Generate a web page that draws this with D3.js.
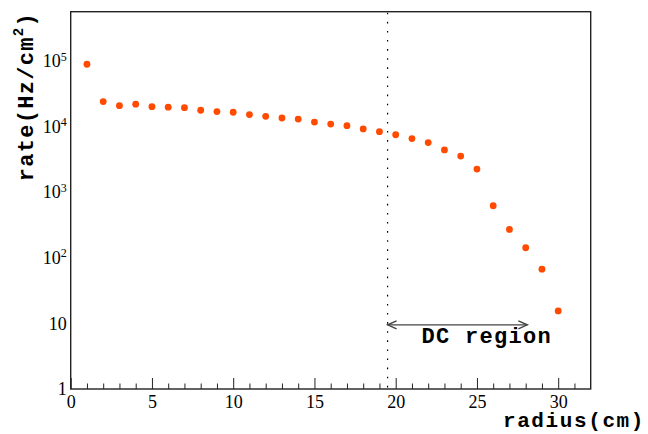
<!DOCTYPE html>
<html>
<head>
<meta charset="utf-8">
<script src="https://cdn.jsdelivr.net/npm/d3@7"></script>
<style>
  html, body { margin: 0; padding: 0; background: #fff; }
  svg { display: block; }
  .serif text, text.serif { font-family: "Liberation Serif", "DejaVu Serif", "Times New Roman", serif; }
  .mono { font-family: "Liberation Mono", "DejaVu Sans Mono", "Courier New", monospace; font-weight: bold; }
</style>
</head>
<body>
<svg id="chart" width="648" height="434"></svg>
<script>
// Hit rate versus radius
const radius = [1, 2, 3, 4, 5, 6, 7, 8, 9, 10, 11, 12, 13, 14, 15,
                16, 17, 18, 19, 20, 21, 22, 23, 24, 25, 26, 27, 28, 29, 30];
const rate = [89000, 24000, 20800, 21900, 20100, 19700, 19400, 17700, 16900, 16500,
              15200, 14300, 13500, 13000, 11700, 10900, 10300, 9200, 8350, 7500,
              6550, 5700, 4400, 3550, 2250, 620, 270, 142, 67, 15.5];

const xMajorTicks = [0, 5, 10, 15, 20, 25, 30];
const xMinorTicks = [1, 2, 3, 4, 6, 7, 8, 9, 11, 12, 13, 14, 16, 17, 18, 19,
                     21, 22, 23, 24, 26, 27, 28, 29, 31];
const yTickValues = [1, 10, 100, 1000, 10000, 100000];
const yTickExps = ["", "", "2", "3", "4", "5"];

const dcStart = 19.5;
const dcEnd = 28.1;
const dcLabel = "DC region";

const svg = d3.select("#chart");
const plot = { left: 70.7, right: 590.7, top: 11.7, bottom: 389 };

const x = d3.scaleLinear().domain([0, 32]).range([plot.left, plot.right]);
const y = d3.scaleLog().domain([1, Math.pow(10, 5.75)]).range([plot.bottom, plot.top]);

// x axis: minor ticks then major ticks with labels, drawn inward
const xMinor = d3.axisBottom(x).tickValues(xMinorTicks).tickSize(-5.5).tickFormat("");
const xMajor = d3.axisBottom(x).tickValues(xMajorTicks).tickSize(-11).tickPadding(6.5);

svg.append("g").attr("transform", `translate(0,${plot.bottom})`).call(xMinor)
  .call(g => g.select(".domain").remove())
  .call(g => g.selectAll("line").attr("stroke", "#222").attr("stroke-width", 1));

svg.append("g").attr("class", "serif").attr("transform", `translate(0,${plot.bottom})`).call(xMajor)
  .attr("font-family", null)
  .call(g => g.select(".domain").remove())
  .call(g => g.selectAll("line").attr("stroke", "#222").attr("stroke-width", 1))
  .call(g => g.selectAll("text").attr("font-size", 18).attr("fill", "#000"));

// y axis labels (log, with superscript exponents)
const yAxis = d3.axisLeft(y).tickValues(yTickValues).tickSize(0).tickPadding(4);
svg.append("g").attr("class", "serif").attr("transform", `translate(${plot.left},0)`).call(yAxis)
  .attr("font-family", null)
  .call(g => g.select(".domain").remove())
  .call(g => g.selectAll("text")
    .attr("font-size", 18).attr("fill", "#000")
    .each(function(d, i) {
      const t = d3.select(this);
      const exp = yTickExps[i];
      t.text(null);
      if (exp === "") {
        t.text(d3.format("d")(d));
      } else {
        t.append("tspan").text("10");
        t.append("tspan").attr("font-size", 12).attr("dy", "-0.55em").text(exp);
      }
    }));

// frame
svg.append("rect")
  .attr("x", plot.left).attr("y", plot.top)
  .attr("width", plot.right - plot.left).attr("height", plot.bottom - plot.top)
  .attr("fill", "none").attr("stroke", "#222").attr("stroke-width", 1.4);

// dotted boundary of the DC region
svg.append("line")
  .attr("x1", x(dcStart)).attr("x2", x(dcStart))
  .attr("y1", plot.top + 1).attr("y2", plot.bottom - 1)
  .attr("stroke", "#000").attr("stroke-width", 1.2)
  .attr("stroke-dasharray", "1.6 7.5");

// double-headed arrow marking the DC region
const arrowY = y(9.5);
const ax1 = x(dcStart), ax2 = x(dcEnd);
const arrow = svg.append("g").attr("stroke", "#444").attr("stroke-width", 1.4).attr("fill", "none");
arrow.append("line").attr("x1", ax1).attr("x2", ax2).attr("y1", arrowY).attr("y2", arrowY);
arrow.append("path").attr("d", `M${ax1 + 9},${arrowY - 4} L${ax1},${arrowY} L${ax1 + 9},${arrowY + 4}`);
arrow.append("path").attr("d", `M${ax2 - 9},${arrowY - 4} L${ax2},${arrowY} L${ax2 - 9},${arrowY + 4}`);

svg.append("text")
  .attr("class", "mono")
  .attr("x", 421.5).attr("y", 342.5)
  .attr("font-size", 22)
  .attr("letter-spacing", 1.3).attr("fill", "#000")
  .text(dcLabel);

// data points
svg.append("g").selectAll("circle")
  .data(radius.map((r, i) => ({ r, v: rate[i] })))
  .join("circle")
  .attr("cx", d => x(d.r))
  .attr("cy", d => y(d.v))
  .attr("r", 3.4)
  .attr("fill", "#ff4a00");

// axis titles
svg.append("text")
  .attr("class", "mono")
  .attr("x", 645).attr("y", 427)
  .attr("text-anchor", "end")
  .attr("font-size", 21)
  .attr("letter-spacing", 1.6).attr("fill", "#000")
  .text("radius(cm)");

const yTitle = svg.append("text")
  .attr("class", "mono")
  .attr("transform", "translate(33,12) rotate(-90)")
  .attr("text-anchor", "end")
  .attr("font-size", 22)
  .attr("letter-spacing", 1.3).attr("fill", "#000");
yTitle.append("tspan").text("rate(Hz/cm");
yTitle.append("tspan").attr("font-size", 14).attr("dy", "-0.7em").text("2");
yTitle.append("tspan").attr("dy", "0.45em").text(")");
</script>
</body>
</html>
